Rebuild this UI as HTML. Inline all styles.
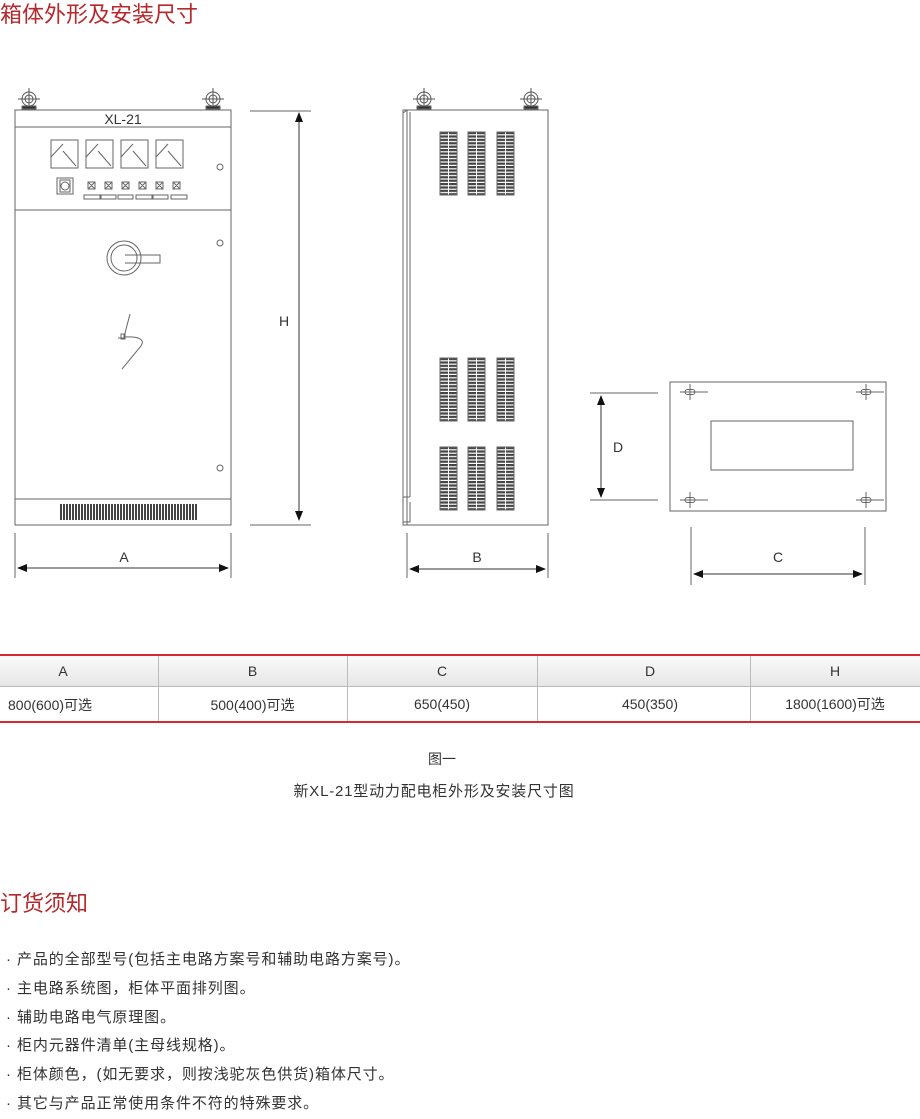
<!DOCTYPE html>
<html><head><meta charset="utf-8"><style>
body{margin:0;background:#fff;width:920px;height:1113px;position:relative;overflow:hidden;font-family:"Liberation Sans","Noto Sans CJK SC",sans-serif;color:#333}
.t{position:absolute;white-space:nowrap}
</style></head><body>
<div class="t" style="left:0;top:-3px;font-size:22px;color:#b5282c">箱体外形及安装尺寸</div>
<svg width="920" height="640" style="position:absolute;left:0;top:0" xmlns="http://www.w3.org/2000/svg">
<defs>
<pattern id="hv" width="18" height="3.4" patternUnits="userSpaceOnUse"><rect x="0" y="0" width="8" height="2.2" fill="#444"/><rect x="9" y="0" width="8" height="2.2" fill="#444"/></pattern>
<pattern id="vv" width="3" height="20" patternUnits="userSpaceOnUse"><rect x="0" y="0" width="2" height="20" fill="#444"/></pattern>
<marker id="ar" viewBox="0 0 10 10" refX="9" refY="5" markerWidth="12" markerHeight="10" orient="auto-start-reverse"><path d="M0,1 L10,5 L0,9 z" fill="#111"/></marker>
<g id="eb"><circle cx="0" cy="0" r="7" fill="none" stroke="#555"/><circle cx="0" cy="0" r="4" fill="none" stroke="#555"/><line x1="-11" y1="0" x2="11" y2="0" stroke="#555"/><line x1="0" y1="-11" x2="0" y2="10" stroke="#555"/><rect x="-7" y="7" width="14" height="3" fill="#333"/></g>
<g id="bolt"><line x1="-10" y1="0" x2="18" y2="0" stroke="#666"/><line x1="0" y1="-8" x2="0" y2="8" stroke="#666"/><rect x="-5" y="-2.5" width="10" height="5" rx="2.5" fill="none" stroke="#666"/></g>
<g id="vcol"><rect x="0" y="0" width="17" height="63" fill="url(#hv)"/></g>
</defs>
<g stroke="#666" fill="none" stroke-width="1">
<use href="#eb" x="29" y="99"/><use href="#eb" x="213" y="99"/>
<rect x="15" y="110" width="216" height="415"/>
<line x1="15" y1="127" x2="231" y2="127"/>
<line x1="15" y1="210" x2="231" y2="210"/>
<line x1="15" y1="499" x2="231" y2="499"/>
<g>
<rect x="51" y="140" width="27" height="28"/><path d="M51,157 L63,144 M63,151 L76,166"/>
<rect x="86" y="140" width="27" height="28"/><path d="M86,157 L98,144 M98,151 L111,166"/>
<rect x="121" y="140" width="27" height="28"/><path d="M121,157 L133,144 M133,151 L146,166"/>
<rect x="156" y="140" width="27" height="28"/><path d="M156,157 L168,144 M168,151 L181,166"/>
</g>
<rect x="57" y="178" width="16" height="16"/><rect x="60" y="180" width="10" height="12"/><circle cx="65" cy="186" r="4"/>
<g>
<rect x="88" y="182" width="7" height="7"/><rect x="105" y="182" width="7" height="7"/><rect x="122" y="182" width="7" height="7"/><rect x="139" y="182" width="7" height="7"/><rect x="156" y="182" width="7" height="7"/><rect x="173" y="182" width="7" height="7"/>
<path d="M88,182l7,7M95,182l-7,7M105,182l7,7M112,182l-7,7M122,182l7,7M129,182l-7,7M139,182l7,7M146,182l-7,7M156,182l7,7M163,182l-7,7M173,182l7,7M180,182l-7,7"/>
<rect x="84" y="195" width="16" height="4"/><rect x="101" y="195" width="15" height="4"/><rect x="118" y="195" width="15" height="4"/><rect x="136" y="195" width="16" height="4"/><rect x="153" y="195" width="15" height="4"/><rect x="171" y="195" width="16" height="4"/>
</g>
<circle cx="220" cy="167" r="3"/><circle cx="220" cy="243" r="3"/><circle cx="220" cy="468" r="3"/>
<circle cx="124" cy="258" r="17"/><circle cx="124" cy="258" r="13"/>
<path d="M125,255 L160,255 L160,263 L125,263"/>
<path d="M130,314 L124,337 M118,338 L124,338 L124,334 M121,334 h4v5h-4z M124,337 C140,336 145,340 141,346 L122,369"/>
<rect x="60" y="504" width="138" height="16" fill="url(#vv)" stroke="none"/>
<line x1="250" y1="111" x2="311" y2="111"/><line x1="250" y1="525" x2="311" y2="525"/>
<line x1="299" y1="113" x2="299" y2="520" stroke="#333" marker-start="url(#ar)" marker-end="url(#ar)"/>
<line x1="15" y1="533" x2="15" y2="578"/><line x1="231" y1="533" x2="231" y2="578"/>
<line x1="18" y1="568" x2="228" y2="568" stroke="#333" marker-start="url(#ar)" marker-end="url(#ar)"/>
<use href="#eb" x="424" y="99"/><use href="#eb" x="531" y="99"/>
<rect x="403" y="110" width="145" height="415"/>
<path d="M403,113 L407,110 M407,110 L407,525 M410,112 L410,497 M403,497 L410,497 M410,502 L410,522 L403,522"/>
<use href="#vcol" x="440" y="132"/><use href="#vcol" x="468" y="132"/><use href="#vcol" x="497" y="132"/>
<use href="#vcol" x="440" y="358"/><use href="#vcol" x="468" y="358"/><use href="#vcol" x="497" y="358"/>
<use href="#vcol" x="440" y="447"/><use href="#vcol" x="468" y="447"/><use href="#vcol" x="497" y="447"/>
<line x1="407" y1="533" x2="407" y2="578"/><line x1="548" y1="533" x2="548" y2="578"/>
<line x1="410" y1="569" x2="545" y2="569" stroke="#333" marker-start="url(#ar)" marker-end="url(#ar)"/>
<rect x="670" y="382" width="216" height="129"/>
<rect x="711" y="421" width="142" height="49"/>
<use href="#bolt" x="690" y="392"/><use href="#bolt" x="866" y="392"/><use href="#bolt" x="690" y="500"/><use href="#bolt" x="866" y="500"/>
<line x1="590" y1="393" x2="658" y2="393"/><line x1="590" y1="500" x2="658" y2="500"/>
<line x1="601" y1="396" x2="601" y2="497" stroke="#333" marker-start="url(#ar)" marker-end="url(#ar)"/>
<line x1="691" y1="527" x2="691" y2="585"/><line x1="865" y1="527" x2="865" y2="585"/>
<line x1="694" y1="574" x2="862" y2="574" stroke="#333" marker-start="url(#ar)" marker-end="url(#ar)"/>
</g>
<g font-family="Liberation Sans, sans-serif" font-size="14" fill="#333" text-anchor="middle">
<text x="123" y="124">XL-21</text>
<text x="284" y="326">H</text>
<text x="124" y="562">A</text>
<text x="477" y="562">B</text>
<text x="618" y="452">D</text>
<text x="778" y="562">C</text>
</g>
</svg>
<div style="position:absolute;left:0;top:654px;width:920px;height:2px;background:#d42a2f"></div>
<div style="position:absolute;left:0;top:656px;width:920px;height:30px;background:linear-gradient(#fafafa,#e6e6e6)"></div>
<div style="position:absolute;left:0;top:686px;width:920px;height:1px;background:#bbb"></div>
<div style="position:absolute;left:0;top:721px;width:920px;height:2px;background:#d42a2f"></div>
<div style="position:absolute;left:158px;top:656px;width:1px;height:65px;background:#bbb"></div>
<div style="position:absolute;left:347px;top:656px;width:1px;height:65px;background:#bbb"></div>
<div style="position:absolute;left:537px;top:656px;width:1px;height:65px;background:#bbb"></div>
<div style="position:absolute;left:750px;top:656px;width:1px;height:65px;background:#bbb"></div>
<div style="font-size:14px">
<div class="t" style="left:0;width:126px;top:663px;text-align:center">A</div>
<div class="t" style="left:158px;width:189px;top:663px;text-align:center">B</div>
<div class="t" style="left:347px;width:190px;top:663px;text-align:center">C</div>
<div class="t" style="left:537px;width:226px;top:663px;text-align:center">D</div>
<div class="t" style="left:750px;width:170px;top:663px;text-align:center">H</div>
<div class="t" style="left:8px;top:695px">800(600)可选</div>
<div class="t" style="left:158px;width:189px;top:695px;text-align:center">500(400)可选</div>
<div class="t" style="left:347px;width:190px;top:696px;text-align:center">650(450)</div>
<div class="t" style="left:537px;width:226px;top:696px;text-align:center">450(350)</div>
<div class="t" style="left:750px;width:170px;top:694px;text-align:center">1800(1600)可选</div>
</div>
<div class="t" style="left:0;width:884px;top:749px;text-align:center;font-size:14px">图一</div>
<div class="t" style="left:0;width:868px;top:780px;text-align:center;font-size:15px;letter-spacing:0.8px">新XL-21型动力配电柜外形及安装尺寸图</div>
<div class="t" style="left:0;top:886px;font-size:22px;color:#b5282c">订货须知</div>
<div style="position:absolute;left:6px;top:946px;font-size:15px;letter-spacing:0.9px;line-height:28.8px;color:#333">
<div>· 产品的全部型号(包括主电路方案号和辅助电路方案号)。</div>
<div>· 主电路系统图，柜体平面排列图。</div>
<div>· 辅助电路电气原理图。</div>
<div>· 柜内元器件清单(主母线规格)。</div>
<div>· 柜体颜色，(如无要求，则按浅驼灰色供货)箱体尺寸。</div>
<div>· 其它与产品正常使用条件不符的特殊要求。</div>
</div>
</body></html>
